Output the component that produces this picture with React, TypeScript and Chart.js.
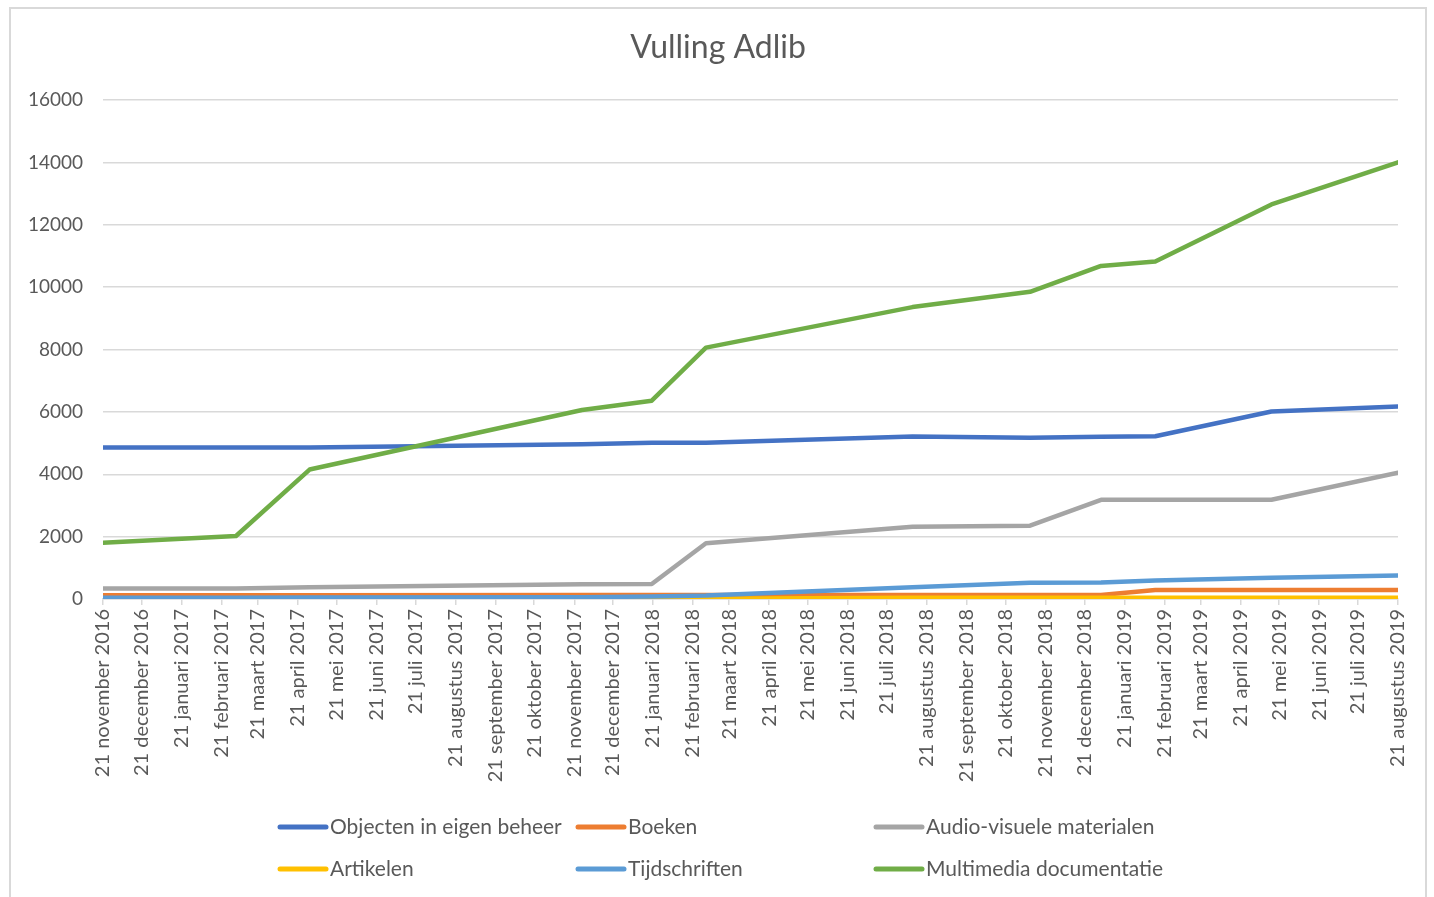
import React, { useEffect, useRef } from "react";
import { Chart, registerables } from "chart.js";

Chart.register(...registerables);

// ---- DATA ----
const TITLE = "Vulling Adlib";

const DUTCH_MONTHS = [
  "januari", "februari", "maart", "april", "mei", "juni",
  "juli", "augustus", "september", "oktober", "november", "december",
];

const TICK_LABELS = [
  "21 november 2016", "21 december 2016", "21 januari 2017", "21 februari 2017",
  "21 maart 2017", "21 april 2017", "21 mei 2017", "21 juni 2017", "21 juli 2017",
  "21 augustus 2017", "21 september 2017", "21 oktober 2017", "21 november 2017",
  "21 december 2017", "21 januari 2018", "21 februari 2018", "21 maart 2018",
  "21 april 2018", "21 mei 2018", "21 juni 2018", "21 juli 2018", "21 augustus 2018",
  "21 september 2018", "21 oktober 2018", "21 november 2018", "21 december 2018",
  "21 januari 2019", "21 februari 2019", "21 maart 2019", "21 april 2019",
  "21 mei 2019", "21 juni 2019", "21 juli 2019", "21 augustus 2019",
];

const DATES = [
  "2016-11-21", "2017-03-04", "2017-04-30", "2017-11-27", "2018-01-20", "2018-03-03",
  "2018-08-10", "2018-11-09", "2019-01-03", "2019-02-14", "2019-05-15", "2019-08-21",
];

const OBJECTEN = [4860, 4860, 4860, 4960, 5010, 5010, 5210, 5170, 5200, 5220, 6010, 6170];
const BOEKEN = [120, 120, 120, 125, 125, 125, 130, 130, 130, 290, 290, 290];
const AUDIOVISUEEL = [340, 340, 380, 470, 480, 1790, 2320, 2350, 3180, 3180, 3180, 4050];
const ARTIKELEN = [0, 0, 0, 0, 0, 10, 40, 40, 40, 40, 40, 40];
const TIJDSCHRIFTEN = [40, 40, 45, 60, 80, 110, 380, 520, 530, 590, 680, 750];
const MULTIMEDIA = [1800, 2020, 4150, 6060, 6360, 8060, 9360, 9850, 10680, 10820, 12650, 14000];

const SERIES_LABELS = [
  "Objecten in eigen beheer", "Boeken", "Audio-visuele materialen",
  "Artikelen", "Tijdschriften", "Multimedia documentatie",
];
const SERIES_VALUES = [OBJECTEN, BOEKEN, AUDIOVISUEEL, ARTIKELEN, TIJDSCHRIFTEN, MULTIMEDIA];
const SERIES_COLORS = ["#4472C4", "#ED7D31", "#A5A5A5", "#FFC000", "#5B9BD5", "#70AD47"];

const Y_MIN = 0;
const Y_MAX = 16000;
const Y_STEP = 2000;

// ---- helpers ----
const ORIGIN = Date.UTC(2016, 10, 21);
const isoToDay = (s: string) => {
  const [y, m, d] = s.split("-").map(Number);
  return (Date.UTC(y, m - 1, d) - ORIGIN) / 86400000;
};
const labelToDay = (s: string) => {
  const [d, mn, y] = s.split(" ");
  return (Date.UTC(Number(y), DUTCH_MONTHS.indexOf(mn), Number(d)) - ORIGIN) / 86400000;
};
const TICK_DAYS = TICK_LABELS.map(labelToDay);

const FONT = "Lato, 'Liberation Sans', sans-serif";
const TEXT_COLOR = "#595959";
const GRID_COLOR = "#d9d9d9";

const LEGEND_X = [277, 575, 873];
const LEGEND_Y = [827, 869];

const titleAndLegendPlugin = {
  id: "titleAndGridLegend",
  afterDraw(chart: any) {
    const ctx = chart.ctx;
    ctx.save();
    ctx.fillStyle = TEXT_COLOR;
    ctx.font = `32px ${FONT}`;
    ctx.textAlign = "center";
    ctx.textBaseline = "middle";
    ctx.fillText(TITLE, 718, 48);
    ctx.restore();

    chart.data.datasets.forEach((ds: any, i: number) => {
      const x0 = LEGEND_X[i % 3];
      const y = LEGEND_Y[Math.floor(i / 3)];
      ctx.save();
      ctx.strokeStyle = ds.borderColor;
      ctx.lineWidth = 5;
      ctx.lineCap = "round";
      ctx.beginPath();
      ctx.moveTo(x0 + 3, y);
      ctx.lineTo(x0 + 49, y);
      ctx.stroke();
      ctx.fillStyle = TEXT_COLOR;
      ctx.font = `21px ${FONT}`;
      ctx.textBaseline = "middle";
      ctx.textAlign = "left";
      ctx.fillText(ds.label, x0 + 53, y);
      ctx.restore();
    });
  },
};

export default function App() {
  const ref = useRef<HTMLCanvasElement | null>(null);

  useEffect(() => {
    if (!ref.current) return;
    const xs = DATES.map(isoToDay);
    const chart = new Chart(ref.current, {
      type: "line",
      data: {
        datasets: SERIES_LABELS.map((label, i) => ({
          label,
          data: SERIES_VALUES[i].map((v, j) => ({ x: xs[j], y: v })),
          borderColor: SERIES_COLORS[i],
          backgroundColor: SERIES_COLORS[i],
          borderWidth: 4.5,
          pointRadius: 0,
          tension: 0,
          borderCapStyle: "round",
          borderJoinStyle: "round",
          order: SERIES_LABELS.length - 1 - i,
          fill: false,
        })),
      },
      options: {
        responsive: false,
        animation: false,
        layout: { padding: { left: 0, right: 36, top: 100, bottom: 98 } },
        plugins: {
          legend: { display: false },
          tooltip: { enabled: false },
          title: { display: false },
        },
        scales: {
          x: {
            type: "linear",
            min: 0,
            max: TICK_DAYS[TICK_DAYS.length - 1],
            afterBuildTicks: (scale: any) => {
              scale.ticks = TICK_DAYS.map((v) => ({ value: v }));
            },
            afterFit: (scale: any) => {
              scale.height = 200;
            },
            ticks: {
              autoSkip: false,
              maxRotation: 90,
              minRotation: 90,
              color: TEXT_COLOR,
              font: { family: FONT, size: 20 },
              padding: 4,
              callback: (_v: any, idx: number) => TICK_LABELS[idx],
            },
            grid: {
              drawOnChartArea: false,
              drawTicks: true,
              tickLength: 6,
              color: GRID_COLOR,
              lineWidth: 1.5,
            },
            border: { display: true, color: GRID_COLOR, width: 1.5 },
          },
          y: {
            type: "linear",
            min: Y_MIN,
            max: Y_MAX,
            afterFit: (scale: any) => {
              scale.width = 103;
            },
            ticks: {
              stepSize: Y_STEP,
              color: TEXT_COLOR,
              font: { family: FONT, size: 19 },
              padding: 20,
              callback: (v: any) => String(v),
            },
            grid: {
              color: GRID_COLOR,
              lineWidth: 1.5,
              drawTicks: false,
              tickLength: 0,
            },
            border: { display: false },
          },
        },
      },
      plugins: [titleAndLegendPlugin],
    } as any);
    return () => chart.destroy();
  }, []);

  return (
    <div>
      <div
        style={{
          position: "absolute",
          left: 9,
          top: 7,
          width: 1418,
          height: 890,
          boxSizing: "border-box",
          border: `2px solid ${GRID_COLOR}`,
          borderBottom: "none",
          background: "#fff",
        }}
      />
      <canvas
        ref={ref}
        width={1434}
        height={897}
        style={{ position: "absolute", left: 0, top: 0, width: 1434, height: 897 }}
      />
    </div>
  );
}
